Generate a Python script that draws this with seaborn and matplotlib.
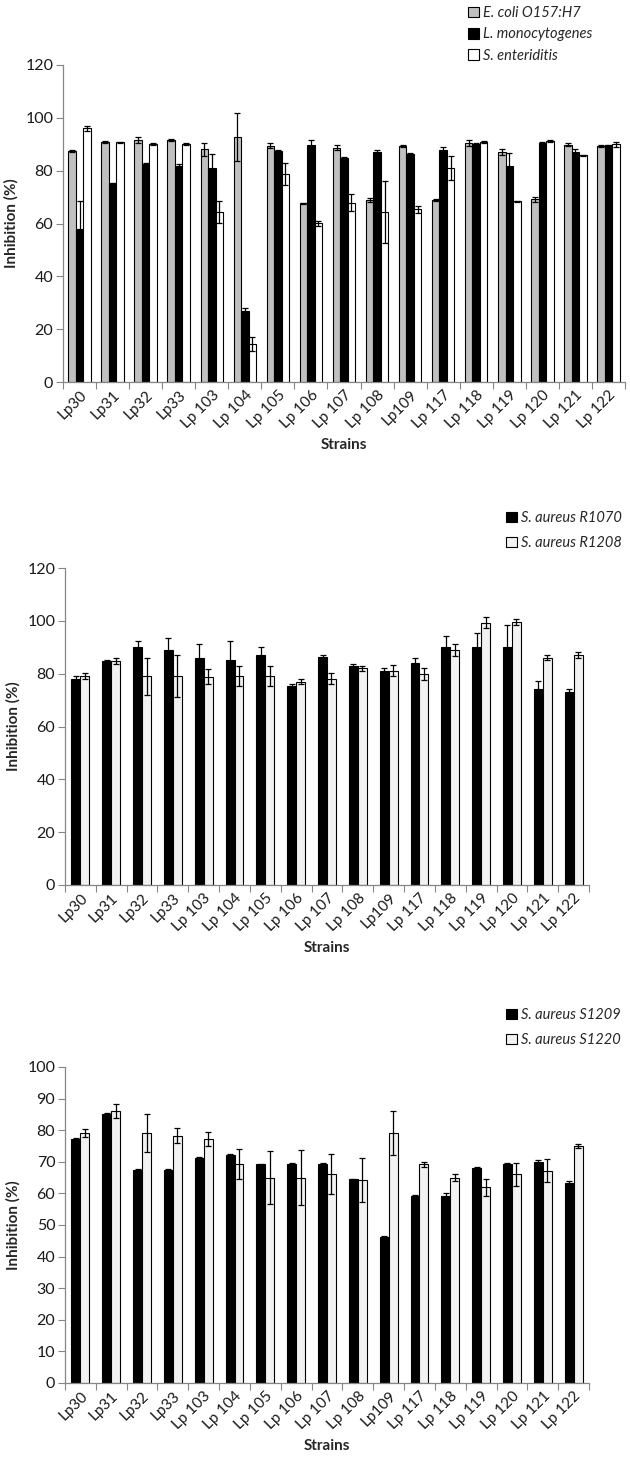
import matplotlib
matplotlib.use("Agg")
import matplotlib.pyplot as plt
import seaborn as sns
import pandas as pd

strains = ["Lp30", "Lp31", "Lp32", "Lp33", "Lp 103", "Lp 104", "Lp 105", "Lp 106",
           "Lp 107", "Lp 108", "Lp109", "Lp 117", "Lp 118", "Lp 119", "Lp 120",
           "Lp 121", "Lp 122"]

# panel A: food-borne pathogens
ecoli = [87.6, 90.9, 91.5, 91.6, 88.1, 92.8, 89.5, 67.6, 88.7, 68.9, 89.2, 68.9, 90.5, 87.2, 69.2, 89.9, 89.3]
ecoli_err = [0.4, 0.4, 1.2, 0.4, 2.4, 9.2, 0.8, 0.3, 0.9, 0.8, 0.4, 0.3, 1.2, 1.1, 0.9, 0.4, 0.4]
listeria = [57.8, 75.2, 82.5, 81.9, 80.9, 26.9, 87.6, 89.9, 84.7, 87.2, 86.3, 87.8, 90.2, 81.8, 90.4, 87.2, 89.6]
listeria_err = [10.7, 0.3, 0.3, 0.8, 5.5, 1.1, 0.3, 1.6, 0.3, 0.5, 0.3, 1.0, 0.4, 5.0, 0.4, 1.1, 0.3]
salmonella = [96.0, 90.7, 90.2, 90.0, 64.5, 14.4, 78.8, 60.1, 67.9, 64.5, 65.4, 81.1, 90.7, 68.4, 91.2, 85.8, 90.0]
salmonella_err = [1.0, 0.3, 0.3, 0.3, 4.2, 2.8, 4.2, 1.0, 3.3, 11.7, 1.4, 4.5, 0.4, 0.3, 0.4, 0.3, 0.9]

# panel B: S. aureus R strains
r1070 = [78.1, 84.9, 90.0, 89.1, 86.1, 85.1, 87.1, 75.3, 86.2, 82.9, 81.1, 84.2, 90.0, 90.0, 90.0, 74.1, 73.1]
r1070_err = [1.0, 0.3, 2.4, 4.3, 5.3, 7.4, 3.0, 0.8, 0.9, 0.6, 1.0, 1.9, 4.3, 5.4, 8.5, 3.2, 1.0]
r1208 = [79.1, 84.9, 79.1, 79.1, 78.9, 79.1, 79.1, 77.0, 78.0, 82.0, 81.1, 79.9, 89.0, 99.3, 99.7, 86.1, 87.1]
r1208_err = [1.0, 1.1, 7.0, 8.0, 2.9, 3.9, 3.9, 1.1, 2.1, 1.0, 2.0, 2.3, 2.4, 2.0, 1.1, 1.0, 1.0]

# panel C: S. aureus S strains
s1209 = [77.2, 85.2, 67.4, 67.3, 71.3, 72.3, 69.2, 69.3, 69.3, 64.4, 46.3, 59.3, 59.3, 68.1, 69.2, 70.0, 63.2]
s1209_err = [0.2, 0.2, 0.2, 0.5, 0.2, 0.2, 0.2, 0.2, 0.2, 0.2, 0.2, 0.2, 0.7, 0.3, 0.5, 0.7, 0.7]
s1220 = [79.2, 86.2, 79.2, 78.2, 77.2, 69.3, 65.0, 65.0, 66.1, 64.2, 79.2, 69.2, 65.0, 61.9, 66.1, 67.2, 75.0]
s1220_err = [1.2, 2.2, 6.0, 2.4, 2.3, 4.9, 8.4, 8.6, 6.4, 6.9, 7.0, 0.7, 1.2, 2.8, 3.6, 3.6, 0.5]

panels = [
    (["E. coli O157:H7", "L. monocytogenes", "S. enteriditis"],
     [ecoli, listeria, salmonella], [ecoli_err, listeria_err, salmonella_err],
     ["#c0c0c0", "#000000", "#ffffff"], (120, 20)),
    (["S. aureus R1070", "S. aureus R1208"],
     [r1070, r1208], [r1070_err, r1208_err],
     ["#000000", "#f2f2f2"], (120, 20)),
    (["S. aureus S1209", "S. aureus S1220"],
     [s1209, s1220], [s1209_err, s1220_err],
     ["#000000", "#f2f2f2"], (100, 10)),
]

sns.set_theme(style="white")
plt.rcParams["font.family"] = ["Lato", "DejaVu Sans"]

fig = plt.figure(figsize=(6.3, 14.65), dpi=100)
W, H = 630.0, 1465.0
# axes boxes in pixels: left, right, top, bottom
boxes = [(63, 625, 65, 382), (65, 589, 568, 885), (65, 589, 1067, 1383)]
legend_pos = [(468, 6, 0.5), (506, 511, 0.75), (506, 1008, 0.75)]
bar_total = [0.68, 0.58, 0.58]

gridcol = "#868686"

for k, (names, series, errs, colors, (ymax, ystep)) in enumerate(panels):
    l, r, t, b = boxes[k]
    ax = fig.add_axes([l / W, 1 - b / H, (r - l) / W, (b - t) / H])

    rows = []
    for name, vals in zip(names, series):
        for s, v in zip(strains, vals):
            rows.append({"Strain": s, "Species": name, "Inhibition": v})
    df = pd.DataFrame(rows)

    sns.barplot(data=df, x="Strain", y="Inhibition", hue="Species",
                order=strains, hue_order=names, palette=colors,
                errorbar=None, width=bar_total[k], edgecolor="#000000",
                linewidth=0.8, saturation=1, ax=ax, legend=True)

    for cont, err in zip(ax.containers, errs):
        xs = [p.get_x() + p.get_width() / 2 for p in cont.patches]
        ys = [p.get_height() for p in cont.patches]
        ax.errorbar(xs, ys, yerr=err, fmt="none", ecolor="#000000",
                    elinewidth=0.9, capsize=2.2, capthick=0.9)

    ax.set_ylim(0, ymax)
    ax.set_yticks(range(0, ymax + 1, ystep))
    ax.set_xlim(-0.5, len(strains) - 0.5)
    ax.set_xticks([i - 0.5 for i in range(len(strains) + 1)], minor=False)
    ax.set_xticklabels([])
    ax.set_xticks(range(len(strains)), minor=True)
    ax.set_xticklabels(strains, minor=True, rotation=45, ha="right",
                       rotation_mode="anchor", fontsize=11, color="#1a1a1a")
    ax.tick_params(axis="x", which="major", length=5, width=0.8, color=gridcol,
                   direction="out", bottom=True)
    ax.tick_params(axis="x", which="minor", length=0, pad=4)
    ax.tick_params(axis="y", length=5, width=0.8, color=gridcol, direction="out",
                   left=True, labelsize=11.5, labelcolor="#1a1a1a", pad=2)

    for side in ["top", "right"]:
        ax.spines[side].set_visible(False)
    for side in ["left", "bottom"]:
        ax.spines[side].set_color(gridcol)
        ax.spines[side].set_linewidth(0.9)

    ax.set_ylabel("Inhibition (%)", fontsize=11, fontweight="bold", labelpad=5)
    ax.set_xlabel("Strains", fontsize=11, fontweight="bold", labelpad=5)

    lx, ly, sp = legend_pos[k]
    handles, labels = ax.get_legend_handles_labels()
    ax.legend(handles, labels, loc="upper left",
              bbox_to_anchor=(lx / W, 1 - ly / H), bbox_transform=fig.transFigure,
              frameon=False, prop={"style": "italic", "size": 10.5},
              handlelength=0.75, handleheight=0.75, handletextpad=0.3,
              labelspacing=sp, borderpad=0, borderaxespad=0)

fig.savefig("out.png", dpi=100)
